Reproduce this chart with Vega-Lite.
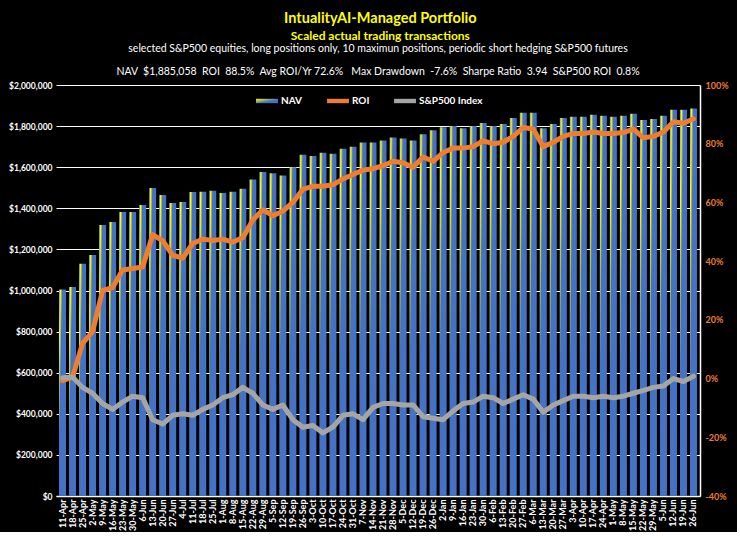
{
  "$schema": "https://vega.github.io/schema/vega-lite/v6.json",
  "background": "black",
  "padding": {"left": 8, "right": 8, "top": 10, "bottom": 1},
  "title": {
    "text": "IntualityAI-Managed Portfolio",
    "subtitle": "Scaled actual trading transactions",
    "color": "#FFFF00", "font": "Lato", "fontSize": 14.5, "fontWeight": "bold",
    "subtitleColor": "#FFFF00", "subtitleFont": "Lato", "subtitleFontSize": 12, "subtitleFontWeight": "bold",
    "subtitlePadding": 5, "anchor": "middle", "offset": 1, "dx": 12
  },
  "datasets": {
    "d": [
      {"w": "11-Apr", "nav": 1005000, "roi": -0.7, "sp": 0.3},
      {"w": "18-Apr", "nav": 1017000, "roi": 0.5, "sp": 0.5},
      {"w": "25-Apr", "nav": 1130000, "roi": 12, "sp": -3},
      {"w": "2-May", "nav": 1173000, "roi": 16, "sp": -5},
      {"w": "9-May", "nav": 1319000, "roi": 30, "sp": -8.5},
      {"w": "16-May", "nav": 1333000, "roi": 31, "sp": -10.5},
      {"w": "23-May", "nav": 1382000, "roi": 37, "sp": -8},
      {"w": "30-May", "nav": 1382000, "roi": 37.5, "sp": -6},
      {"w": "6-Jun", "nav": 1416000, "roi": 38, "sp": -6.5},
      {"w": "13-Jun", "nav": 1499000, "roi": 49, "sp": -14},
      {"w": "20-Jun", "nav": 1465000, "roi": 47, "sp": -15.5},
      {"w": "27-Jun", "nav": 1426000, "roi": 42, "sp": -12.5},
      {"w": "4-Jul", "nav": 1431000, "roi": 41, "sp": -12},
      {"w": "11-Jul", "nav": 1479000, "roi": 46, "sp": -12.5},
      {"w": "18-Jul", "nav": 1480000, "roi": 47.5, "sp": -10.5},
      {"w": "25-Jul", "nav": 1485000, "roi": 47, "sp": -9},
      {"w": "1-Aug", "nav": 1475000, "roi": 47.5, "sp": -6.5},
      {"w": "8-Aug", "nav": 1480000, "roi": 46.5, "sp": -5.5},
      {"w": "15-Aug", "nav": 1495000, "roi": 48, "sp": -3},
      {"w": "22-Aug", "nav": 1540000, "roi": 54, "sp": -5},
      {"w": "29-Aug", "nav": 1577000, "roi": 57.5, "sp": -9},
      {"w": "5-Sep", "nav": 1570000, "roi": 55.5, "sp": -10.5},
      {"w": "12-Sep", "nav": 1560000, "roi": 57, "sp": -9},
      {"w": "19-Sep", "nav": 1600000, "roi": 60, "sp": -14},
      {"w": "26-Sep", "nav": 1660000, "roi": 64.5, "sp": -16.6},
      {"w": "3-Oct", "nav": 1655000, "roi": 65.5, "sp": -16},
      {"w": "10-Oct", "nav": 1670000, "roi": 65.5, "sp": -18.5},
      {"w": "17-Oct", "nav": 1665000, "roi": 66, "sp": -16.5},
      {"w": "24-Oct", "nav": 1690000, "roi": 68, "sp": -12.5},
      {"w": "31-Oct", "nav": 1700000, "roi": 69.5, "sp": -12},
      {"w": "7-Nov", "nav": 1720000, "roi": 71, "sp": -14},
      {"w": "14-Nov", "nav": 1720000, "roi": 71.5, "sp": -9.8},
      {"w": "21-Nov", "nav": 1730000, "roi": 72.5, "sp": -8.5},
      {"w": "28-Nov", "nav": 1745000, "roi": 74, "sp": -8.5},
      {"w": "5-Dec", "nav": 1740000, "roi": 73.5, "sp": -9},
      {"w": "12-Dec", "nav": 1730000, "roi": 72, "sp": -9},
      {"w": "19-Dec", "nav": 1760000, "roi": 75.5, "sp": -13},
      {"w": "26-Dec", "nav": 1780000, "roi": 74, "sp": -13.5},
      {"w": "2-Jan", "nav": 1795000, "roi": 77, "sp": -14},
      {"w": "9-Jan", "nav": 1800000, "roi": 78.5, "sp": -11},
      {"w": "16-Jan", "nav": 1790000, "roi": 78.5, "sp": -8.5},
      {"w": "23-Jan", "nav": 1800000, "roi": 79, "sp": -8},
      {"w": "30-Jan", "nav": 1815000, "roi": 81, "sp": -6},
      {"w": "6-Feb", "nav": 1800000, "roi": 80, "sp": -6.5},
      {"w": "13-Feb", "nav": 1810000, "roi": 80.5, "sp": -8.5},
      {"w": "20-Feb", "nav": 1840000, "roi": 82.5, "sp": -7},
      {"w": "27-Feb", "nav": 1865000, "roi": 85.5, "sp": -5.5},
      {"w": "6-Mar", "nav": 1865000, "roi": 85, "sp": -7},
      {"w": "13-Mar", "nav": 1790000, "roi": 79, "sp": -11.5},
      {"w": "20-Mar", "nav": 1810000, "roi": 80.5, "sp": -9},
      {"w": "27-Mar", "nav": 1840000, "roi": 82.5, "sp": -7.5},
      {"w": "3-Apr", "nav": 1845000, "roi": 83.5, "sp": -6},
      {"w": "10-Apr", "nav": 1845000, "roi": 83.5, "sp": -6},
      {"w": "17-Apr", "nav": 1855000, "roi": 84, "sp": -6.5},
      {"w": "24-Apr", "nav": 1850000, "roi": 83.5, "sp": -6},
      {"w": "1-May", "nav": 1845000, "roi": 83.5, "sp": -6.5},
      {"w": "8-May", "nav": 1850000, "roi": 83.8, "sp": -6},
      {"w": "15-May", "nav": 1860000, "roi": 85, "sp": -5},
      {"w": "22-May", "nav": 1830000, "roi": 82, "sp": -4},
      {"w": "29-May", "nav": 1835000, "roi": 82.5, "sp": -3},
      {"w": "5-Jun", "nav": 1850000, "roi": 84, "sp": -2.5},
      {"w": "12-Jun", "nav": 1880000, "roi": 87.5, "sp": 0},
      {"w": "19-Jun", "nav": 1880000, "roi": 87, "sp": -1},
      {"w": "26-Jun", "nav": 1885058, "roi": 88.5, "sp": 0.8}
    ]
  },
  "vconcat": [
    {
      "width": 644,
      "height": 411,
      "data": {"name": "d"},
      "title": {
        "text": "selected S&P500 equities, long positions only, 10 maximun positions, periodic short hedging S&P500 futures",
        "subtitle": "NAV\u00a0 $1,885,058\u00a0 ROI\u00a0 88.5%\u00a0 Avg ROI/Yr 72.6%\u00a0\u00a0 Max Drawdown\u00a0 -7.6%\u00a0 Sharpe Ratio\u00a0 3.94\u00a0 S&P500 ROI\u00a0 0.8%\u00a0\u00a0\u00a0\u00a0",
        "color": "white", "font": "Lato", "fontSize": 10.5, "fontWeight": "normal",
        "subtitleColor": "white", "subtitleFont": "Lato", "subtitleFontSize": 10.5,
        "subtitlePadding": 12, "anchor": "middle", "offset": 4
      },
      "encoding": {
        "x": {
          "field": "w", "type": "ordinal", "sort": null,
          "scale": {"paddingInner": 0.3, "paddingOuter": 0.3},
          "axis": {
            "title": null, "labelAngle": 270, "labelOverlap": false, "labelBound": false,
            "labelColor": "white", "labelFont": "Lato", "labelFontWeight": "bold", "labelFontSize": 9,
            "labelPadding": 3, "ticks": false, "domain": true, "domainColor": "white", "domainWidth": 1.5, "grid": false
          }
        }
      },
      "layer": [
        {
          "mark": {
            "type": "bar",
            "fill": {
              "gradient": "linear", "x1": 0, "y1": 0, "x2": 1, "y2": 0.6,
              "stops": [
                {"offset": 0, "color": "#4472C4"},
                {"offset": 0.15, "color": "#FFFF00"},
                {"offset": 0.36, "color": "#4472C4"},
                {"offset": 1, "color": "#4472C4"}
              ]
            },
            "stroke": null
          },
          "encoding": {
            "y": {
              "field": "nav", "type": "quantitative",
              "scale": {"domain": [0, 2000000], "nice": false},
              "axis": {
                "title": null, "format": "$,.0f",
                "values": [0, 200000, 400000, 600000, 800000, 1000000, 1200000, 1400000, 1600000, 1800000, 2000000],
                "grid": true, "gridColor": "white", "gridWidth": 1, "domain": false, "ticks": false,
                "labelColor": "white", "labelFont": "Lato", "labelFontWeight": "bold", "labelFontSize": 8.5, "labelPadding": 4
              }
            }
          }
        },
        {
          "layer": [
            {
              "mark": {"type": "line", "strokeWidth": 5, "strokeJoin": "round", "strokeCap": "round"},
              "encoding": {
                "y": {
                  "field": "roi", "type": "quantitative",
                  "scale": {"domain": [-40, 100], "nice": false},
                  "axis": {
                    "orient": "right", "title": null,
                    "values": [-40, -20, 0, 20, 40, 60, 80, 100],
                    "labelExpr": "datum.value + '%'",
                    "grid": false, "ticks": false, "domain": true, "domainColor": "white", "domainWidth": 1.5,
                    "labelColor": "#ED7D31", "labelFont": "Lato", "labelFontWeight": "bold", "labelFontSize": 9, "labelPadding": 5
                  }
                },
                "color": {
                  "datum": "ROI", "type": "nominal",
                  "scale": {"domain": ["NAV", "ROI", "S&P500 Index"], "range": ["#4472C4", "#ED7D31", "#A5A5A5"]},
                  "legend": {
                    "title": null, "orient": "none", "legendX": 200, "legendY": 5, "direction": "horizontal",
                    "symbolType": "M-1,-0.2L1,-0.2L1,0.2L-1,0.2Z", "symbolSize": 480,
                    "labelColor": "white", "labelFont": "Lato", "labelFontWeight": "bold", "labelFontSize": 10,
                    "labelOffset": 3, "columnPadding": 24,
                    "encode": {
                      "symbols": {
                        "update": {
                          "fill": {"signal": "datum.value === 'NAV' ? {gradient: 'linear', x1: 0, y1: 0, x2: 1, y2: 1, stops: [{offset: 0, color: '#FFFF00'}, {offset: 0.6, color: '#4472C4'}, {offset: 1, color: '#4472C4'}]} : scale('color', datum.value)"},
                          "stroke": {"value": "transparent"},
                          "strokeWidth": {"value": 0},
                          "opacity": {"value": 1}
                        }
                      }
                    }
                  }
                }
              }
            },
            {
              "mark": {"type": "line", "strokeWidth": 5, "strokeJoin": "round", "strokeCap": "round"},
              "encoding": {
                "y": {"field": "sp", "type": "quantitative"},
                "color": {"datum": "S&P500 Index", "type": "nominal"}
              }
            }
          ]
        }
      ],
      "resolve": {"scale": {"y": "independent"}}
    }
  ],
  "config": {
    "view": {"stroke": null},
    "font": "Lato"
  }
}
